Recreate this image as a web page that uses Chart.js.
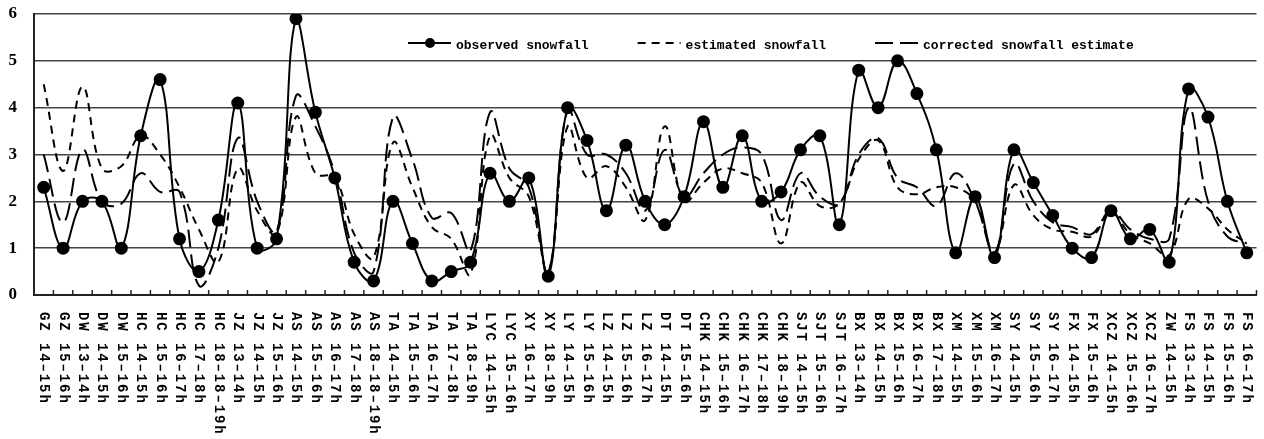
<!DOCTYPE html>
<html>
<head>
<meta charset="utf-8">
<script src="https://cdn.jsdelivr.net/npm/chart.js@4/dist/chart.umd.min.js"></script>
<style>
  html, body { margin: 0; padding: 0; background: #fff; }
  #wrap { width: 1264px; height: 439px; }
</style>
</head>
<body>
<div id="wrap"><canvas id="chart" width="1264" height="439"></canvas></div>
<script>
const categories = [
  "GZ 14–15h", "GZ 15–16h", "DW 13–14h", "DW 14–15h", "DW 15–16h",
  "HC 14–15h", "HC 15–16h", "HC 16–17h", "HC 17–18h", "HC 18–18–19h",
  "JZ 13–14h", "JZ 14–15h", "JZ 15–16h",
  "AS 14–15h", "AS 15–16h", "AS 16–17h", "AS 17–18h", "AS 18–18–19h",
  "TA 14–15h", "TA 15–16h", "TA 16–17h", "TA 17–18h", "TA 18–19h",
  "LYC 14–15h", "LYC 15–16h", "XY 16–17h", "XY 18–19h",
  "LY 14–15h", "LY 15–16h", "LZ 14–15h", "LZ 15–16h", "LZ 16–17h",
  "DT 14–15h", "DT 15–16h",
  "CHK 14–15h", "CHK 15–16h", "CHK 16–17h", "CHK 17–18h", "CHK 18–19h",
  "SJT 14–15h", "SJT 15–16h", "SJT 16–17h",
  "BX 13–14h", "BX 14–15h", "BX 15–16h", "BX 16–17h", "BX 17–18h",
  "XM 14–15h", "XM 15–16h", "XM 16–17h",
  "SY 14–15h", "SY 15–16h", "SY 16–17h", "FX 14–15h", "FX 15–16h",
  "XCZ 14–15h", "XCZ 15–16h", "XCZ 16–17h", "ZW 14–15h",
  "FS 13–14h", "FS 14–15h", "FS 15–16h", "FS 16–17h"
];

const observed = [
  2.3, 1.0, 2.0, 2.0, 1.0, 3.4, 4.6, 1.2, 0.5, 1.6,
  4.1, 1.0, 1.2, 5.9, 3.9, 2.5, 0.7, 0.3, 2.0, 1.1,
  0.3, 0.5, 0.7, 2.6, 2.0, 2.5, 0.4, 4.0, 3.3, 1.8,
  3.2, 2.0, 1.5, 2.1, 3.7, 2.3, 3.4, 2.0, 2.2, 3.1,
  3.4, 1.5, 4.8, 4.0, 5.0, 4.3, 3.1, 0.9, 2.1, 0.8,
  3.1, 2.4, 1.7, 1.0, 0.8, 1.8, 1.2, 1.4, 0.7, 4.4,
  3.8, 2.0, 0.9
];

const estimated = [
  4.5, 2.65, 4.45, 2.7, 2.75, 3.4, 3.0, 2.3, 1.4, 0.7,
  2.7, 1.8, 1.3, 3.8, 2.6, 2.5, 1.3, 0.8, 3.25, 2.3,
  1.45, 1.2, 0.45, 3.4, 2.5, 2.1, 0.5, 3.6, 2.5, 2.75,
  2.3, 1.6, 3.6, 2.0, 2.4, 2.7, 2.6, 2.4, 1.1, 2.4,
  1.9, 1.95, 2.9, 3.3, 2.3, 2.15, 2.3, 2.3, 2.0, 0.9,
  2.35, 1.7, 1.4, 1.35, 1.25, 1.75, 1.3, 1.1, 0.85, 2.05,
  1.85, 1.4, 1.1
];

const corrected = [
  3.0, 1.55, 3.1, 2.0, 1.95, 2.6, 2.2, 2.2, 0.2, 1.0,
  3.35, 2.0, 1.35, 4.25, 3.6, 2.6, 0.9, 0.5, 3.8, 2.9,
  1.65, 1.75, 0.95, 3.9, 2.7, 2.3, 0.5, 3.95, 3.0, 3.0,
  2.6, 1.8, 3.1, 2.1, 2.6, 3.0, 3.15, 3.0, 1.6, 2.6,
  2.1, 1.95, 3.0, 3.35, 2.5, 2.3, 1.9, 2.6, 2.0, 0.9,
  2.8, 2.0, 1.55, 1.45, 1.3, 1.8, 1.4, 1.2, 1.2, 4.0,
  2.0, 1.25, 1.1
];

const seriesNames = ["observed snowfall", "estimated snowfall", "corrected snowfall estimate"];

// category labels, inward ticks and the legend are drawn here
const decorPlugin = {
  id: "decor",
  afterDraw(chart) {
    const ctx = chart.ctx;
    const xs = chart.scales.x;
    const area = chart.chartArea;
    const n = categories.length;
    ctx.save();

    ctx.strokeStyle = "#222";
    ctx.lineWidth = 1.5;
    for (let i = 0; i <= n; i++) {
      let px;
      if (i === 0) px = area.left;
      else if (i === n) px = area.right;
      else px = (xs.getPixelForValue(i - 1) + xs.getPixelForValue(i)) / 2;
      ctx.beginPath();
      ctx.moveTo(px, area.bottom);
      ctx.lineTo(px, area.bottom - 5);
      ctx.stroke();
    }

    ctx.fillStyle = "#000";
    ctx.font = 'bold 14px "Liberation Mono", monospace';
    ctx.letterSpacing = "1.9px";
    ctx.textAlign = "left";
    ctx.textBaseline = "middle";
    categories.forEach((c, i) => {
      ctx.save();
      ctx.translate(xs.getPixelForValue(i), area.bottom + 17);
      ctx.rotate(Math.PI / 2);
      ctx.fillText(c, 0, 0);
      ctx.restore();
    });
    ctx.letterSpacing = "0px";

    let lx = 408;
    const ly = 43;
    chart.data.datasets.forEach((ds) => {
      ctx.strokeStyle = "#000";
      ctx.lineWidth = 2;
      ctx.setLineDash(ds.borderDash || []);
      ctx.beginPath();
      ctx.moveTo(lx, ly);
      ctx.lineTo(lx + 43, ly);
      ctx.stroke();
      ctx.setLineDash([]);
      if (ds.pointRadius > 0) {
        ctx.beginPath();
        ctx.arc(lx + 22, ly, 5, 0, Math.PI * 2);
        ctx.fill();
      }
      ctx.font = 'bold 13px "Liberation Mono", monospace';
      ctx.textBaseline = "alphabetic";
      ctx.fillText(ds.label, lx + 48, 49);
      lx += 48 + ctx.measureText(ds.label).width + 49;
    });

    ctx.restore();
  },
};

new Chart(document.getElementById("chart"), {
  type: "line",
  data: {
    labels: categories,
    datasets: [
      {
        label: seriesNames[0],
        data: observed,
        borderColor: "#000",
        backgroundColor: "#000",
        borderWidth: 2,
        pointRadius: 5.5,
        pointBackgroundColor: "#000",
        pointBorderColor: "#000",
        tension: 0.4,
        order: 0,
      },
      {
        label: seriesNames[1],
        data: estimated,
        borderColor: "#000",
        borderWidth: 2,
        borderDash: [8, 6],
        pointRadius: 0,
        tension: 0.4,
        order: 1,
      },
      {
        label: seriesNames[2],
        data: corrected,
        borderColor: "#000",
        borderWidth: 2,
        borderDash: [18, 7],
        pointRadius: 0,
        tension: 0.4,
        order: 2,
      },
    ],
  },
  options: {
    responsive: false,
    animation: false,
    devicePixelRatio: 1,
    layout: { padding: { left: 8, right: 2, top: 14, bottom: 144 } },
    plugins: {
      legend: { display: false },
      tooltip: { enabled: false },
    },
    scales: {
      x: {
        offset: true,
        grid: { display: false, drawTicks: false },
        ticks: { display: false },
        border: { display: true, color: "#222", width: 2 },
      },
      y: {
        min: 0,
        max: 6,
        ticks: {
          stepSize: 1,
          color: "#000",
          padding: 17,
          font: { family: '"Liberation Serif", serif', weight: "bold", size: 17 },
        },
        grid: { color: "#444", lineWidth: 1.5, drawTicks: false },
        border: { display: true, color: "#222", width: 2 },
        afterFit(scale) {
          // fixed axis width; drop the label half-height padding so the plot runs up to the top
          scale.width = 26;
          scale.paddingTop = 0;
          scale.paddingBottom = 0;
        },
      },
    },
  },
  plugins: [decorPlugin],
});
</script>
</body>
</html>
